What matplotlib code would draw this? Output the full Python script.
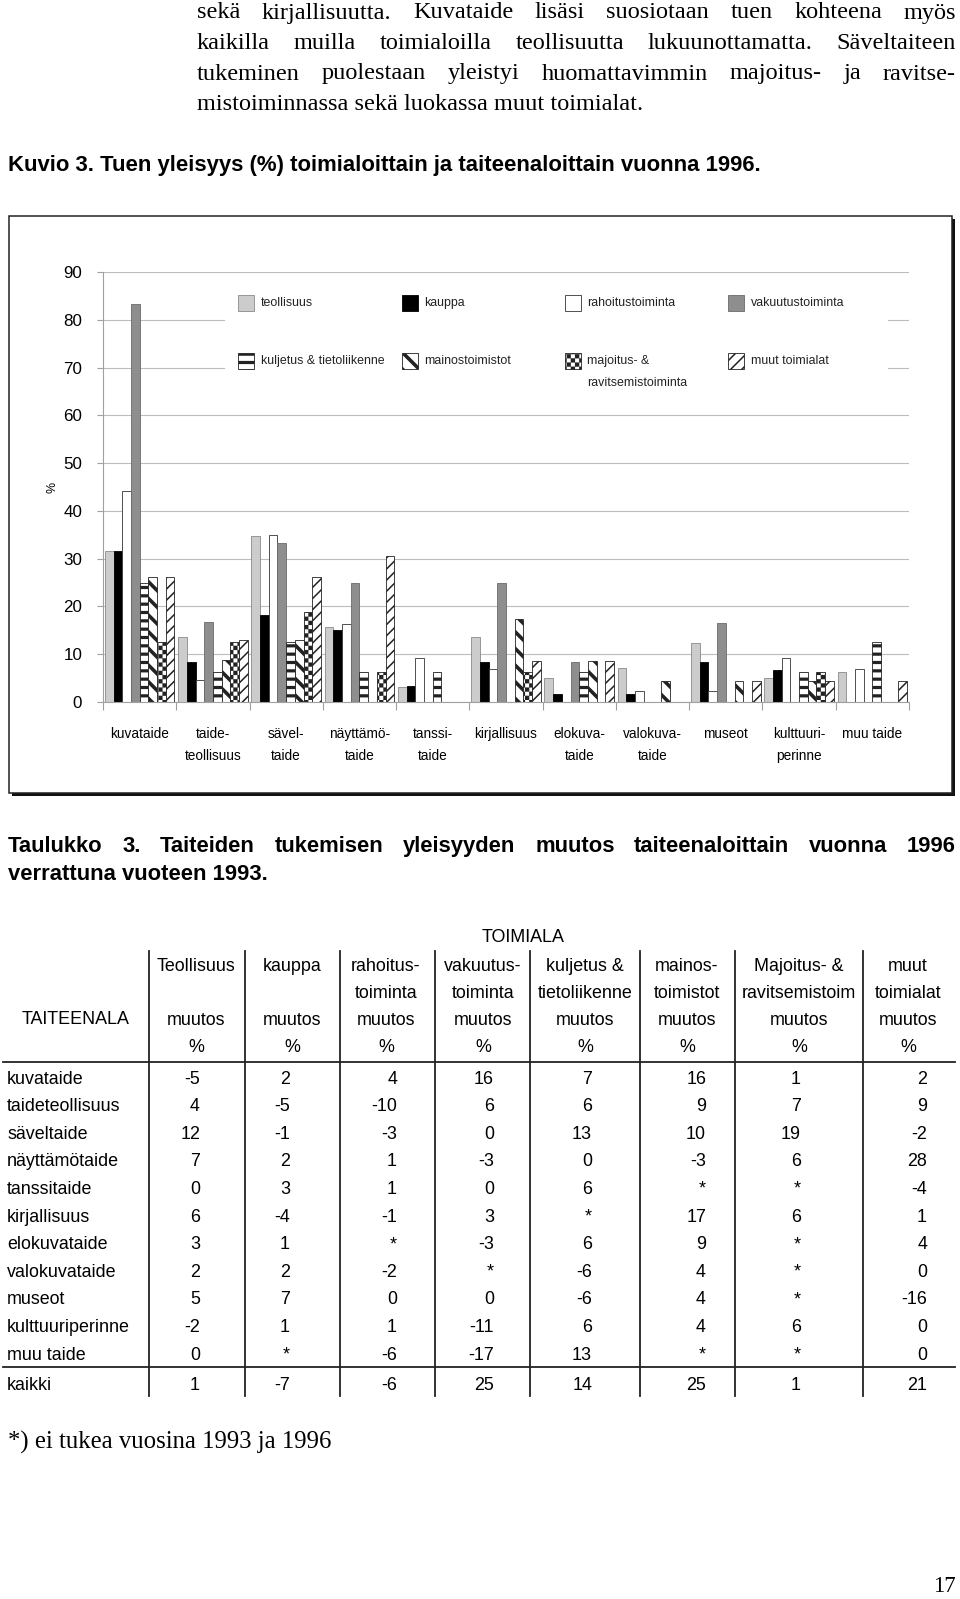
import warnings
import numpy as np
import matplotlib
matplotlib.use('Agg')
import matplotlib.pyplot as plt
import matplotlib.hatch as mhatch
from matplotlib.patches import Rectangle
from matplotlib.lines import Line2D
from matplotlib.path import Path
from matplotlib import font_manager as fm

warnings.filterwarnings('ignore')

# ---- chart data: tuen yleisyys (%) 1996 ----
arts = ['kuvataide', 'taide-\nteollisuus', 'sävel-\ntaide', 'näyttämö-\ntaide', 'tanssi-\ntaide',
        'kirjallisuus', 'elokuva-\ntaide', 'valokuva-\ntaide', 'museot', 'kulttuuri-\nperinne',
        'muu taide']
industries = ['teollisuus', 'kauppa', 'rahoitustoiminta', 'vakuutustoiminta',
              'kuljetus & tietoliikenne', 'mainostoimistot', 'majoitus- &\nravitsemistoiminta',
              'muut toimialat']
teollisuus = [31.6, 13.7, 34.8, 15.8, 3.1, 13.6, 5.1, 7.2, 12.4, 5.1, 6.2]
kauppa = [31.6, 8.3, 18.3, 15.0, 3.3, 8.3, 1.6, 1.6, 8.3, 6.6, 0]
rahoitus = [44.2, 4.6, 35.0, 16.3, 9.3, 7.0, 0, 2.2, 2.2, 9.2, 7.0]
vakuutus = [83.4, 16.7, 33.3, 25.0, 0, 25.0, 8.3, 0, 16.6, 0, 0]
kuljetus = [25.0, 6.3, 12.5, 6.3, 6.3, 0, 6.2, 0, 0, 6.2, 12.5]
mainos = [26.1, 8.7, 13.0, 0, 0, 17.4, 8.6, 4.3, 4.3, 4.3, 0]
majoitus = [12.5, 12.5, 18.8, 6.3, 0, 6.2, 0, 0, 0, 6.2, 0]
muut = [26.1, 13.0, 26.1, 30.5, 0, 8.6, 8.6, 0, 4.3, 4.3, 4.3]
series = [teollisuus, kauppa, rahoitus, vakuutus, kuljetus, mainos, majoitus, muut]

# ---- table data: muutos % 1993 -> 1996 ----
rows = ['kuvataide', 'taideteollisuus', 'säveltaide', 'näyttämötaide', 'tanssitaide',
        'kirjallisuus', 'elokuvataide', 'valokuvataide', 'museot', 'kulttuuriperinne',
        'muu taide', 'kaikki']
hdr1 = ['Teollisuus', 'kauppa', 'rahoitus-', 'vakuutus-', 'kuljetus &', 'mainos-', 'Majoitus- &', 'muut']
hdr2 = ['', '', 'toiminta', 'toiminta', 'tietoliikenne', 'toimistot', 'ravitsemistoim', 'toimialat']
chg_teollisuus = ['-5', '4', '12', '7', '0', '6', '3', '2', '5', '-2', '0', '1']
chg_kauppa = ['2', '-5', '-1', '2', '3', '-4', '1', '2', '7', '1', '*', '-7']
chg_rahoitus = ['4', '-10', '-3', '1', '1', '-1', '*', '-2', '0', '1', '-6', '-6']
chg_vakuutus = ['16', '6', '0', '-3', '0', '3', '-3', '*', '0', '-11', '-17', '25']
chg_kuljetus = ['7', '6', '13', '0', '6', '*', '6', '-6', '-6', '6', '13', '14']
chg_mainos = ['16', '9', '10', '-3', '*', '17', '9', '4', '4', '4', '*', '25']
chg_majoitus = ['1', '7', '19', '6', '*', '6', '*', '*', '*', '6', '*', '1']
chg_muut = ['2', '9', '-2', '28', '-4', '1', '4', '0', '-16', '0', '0', '21']
table_cols = [chg_teollisuus, chg_kauppa, chg_rahoitus, chg_vakuutus,
              chg_kuljetus, chg_mainos, chg_majoitus, chg_muut]


# checkerboard hatch ('c'), not in matplotlib by default
class CheckerHatch(mhatch.HatchPatternBase):
    def __init__(self, hatch, density):
        self.n = (hatch.count('c') * density) // 2 * 2
        self.num_vertices = (self.n * self.n // 2) * 5

    def set_vertices_and_codes(self, vertices, codes):
        s = 1.0 / self.n
        sq = np.array([[0, 0], [s, 0], [s, s], [0, s], [0, 0]])
        parts = [sq + [i * s, j * s] for i in range(self.n) for j in range(self.n) if (i + j) % 2 == 0]
        vertices[:] = np.concatenate(parts)
        codes[:] = np.tile([Path.MOVETO, Path.LINETO, Path.LINETO, Path.LINETO, Path.CLOSEPOLY], len(parts))


mhatch._hatch_types.append(CheckerHatch)

try:
    fm.findfont('Liberation Sans Narrow', fallback_to_default=False)
    SANS = ['Liberation Sans Narrow', 'DejaVu Sans']
except ValueError:
    SANS = ['Liberation Sans', 'DejaVu Sans']
SERIF = ['Liberation Serif', 'DejaVu Serif']
plt.rcParams['font.family'] = SANS
plt.rcParams['hatch.color'] = 'black'

W, H = 960, 1599
fig = plt.figure(figsize=(W / 100, H / 100), dpi=100)
R = fig.canvas.get_renderer()


def fx(x):
    return x / W


def fy(y):
    return 1 - y / H


def fit_size(s, target, family, weight='normal'):
    t = fig.text(0, 0, s, fontsize=12, family=family, weight=weight)
    w = t.get_window_extent(R).width
    t.remove()
    return 12 * target / w


def put(s, x, y, size, family=SANS, **kw):
    return fig.text(fx(x), fy(y), s, fontsize=size, family=family, va='center', **kw)


def justify(s, x0, x1, y, size, family, weight='normal'):
    ts = [put(w, 0, y, size, family, weight=weight) for w in s.split(' ')]
    ws = [t.get_window_extent(R).width for t in ts]
    gap = (x1 - x0 - sum(ws)) / (len(ts) - 1)
    x = x0
    for t, w in zip(ts, ws):
        t.set_x(fx(x))
        x += w + gap


# ---- body text ----
para = ['sekä kirjallisuutta. Kuvataide lisäsi suosiotaan tuen kohteena myös',
        'kaikilla muilla toimialoilla teollisuutta lukuunottamatta. Säveltaiteen',
        'tukeminen puolestaan yleistyi huomattavimmin majoitus- ja ravitse-',
        'mistoiminnassa sekä luokassa muut toimialat.']
ps = fit_size(para[3], 445, SERIF)
for i, line in enumerate(para):
    y = 13 + 30.5 * i
    if i < 3:
        justify(line, 197, 956, y, ps, SERIF)
    else:
        put(line, 197, y, ps, SERIF)

kuvio = 'Kuvio 3. Tuen yleisyys (%) toimialoittain ja taiteenaloittain vuonna 1996.'
put(kuvio, 8, 166, fit_size(kuvio, 752, SANS, 'bold'), weight='bold')

# ---- chart frame with shadow ----
fig.add_artist(Rectangle((fx(12), fy(796)), 943 / W, 577 / H, transform=fig.transFigure,
                         fc='#111111', ec='none', zorder=-3))
fig.add_artist(Rectangle((fx(9), fy(793)), 943 / W, 577 / H, transform=fig.transFigure,
                         fc='white', ec='#222222', lw=1.1, zorder=-2))

ax = fig.add_axes([fx(103), fy(702), (909 - 103) / W, (702 - 272) / H])
ax.patch.set_visible(False)
ax.set_xlim(0, 11)
ax.set_ylim(0, 90)
for sp in ['top', 'right']:
    ax.spines[sp].set_visible(False)
for sp in ['left', 'bottom']:
    ax.spines[sp].set_color('#a0a0a0')
    ax.spines[sp].set_linewidth(0.8)
ax.grid(axis='y', color='#bcbcbc', lw=0.8)
ax.set_axisbelow(True)

styles = [dict(fc='#cccccc', ec='#8a8a8a', hatch=None, hlw=1.0),
          dict(fc='black', ec='black', hatch=None, hlw=1.0),
          dict(fc='white', ec='#333333', hatch=None, hlw=1.0),
          dict(fc='#8e8e8e', ec='#6a6a6a', hatch=None, hlw=1.0),
          dict(fc='white', ec='#222222', hatch='--', hlw=2.3),
          dict(fc='white', ec='#222222', hatch='\\\\', hlw=2.6),
          dict(fc='white', ec='#222222', hatch='cccc', hlw=0.1),
          dict(fc='white', ec='#222222', hatch='///', hlw=1.1)]

bw = 0.95 / 8
groups = np.arange(len(arts)) + 0.5
for k, (vals, st) in enumerate(zip(series, styles)):
    with plt.rc_context({'hatch.linewidth': st['hlw']}):
        bars = ax.bar(groups + (k - 3.5) * bw, vals, bw, color=st['fc'], edgecolor=st['ec'],
                      lw=0.6, hatch=st['hatch'], zorder=2)
    for b in bars:
        if hasattr(b, 'set_hatch_linewidth'):
            b.set_hatch_linewidth(st['hlw'])

ax.set_yticks(range(0, 91, 10))
ax.tick_params(axis='y', length=4, color='#a0a0a0', pad=11, labelsize=fit_size('90', 19, SANS))
ax.set_xticks(groups, arts)
ax.set_xticks(range(len(arts) + 1), minor=True)
ax.tick_params(axis='x', which='major', length=0, pad=18, labelsize=fit_size('kuvataide', 59, SANS))
ax.tick_params(axis='x', which='minor', length=6, color='#a0a0a0', width=0.8)
for lab in ax.get_xticklabels():
    lab.set_linespacing(1.7)

leg_size = fit_size('teollisuus', 52, SANS)
put('%', 53, 487, leg_size, rotation=90, ha='center')

# legend block (white box hides the grid behind it)
fig.add_artist(Rectangle((fx(225), fy(405)), (888 - 225) / W, 125 / H, transform=fig.transFigure,
                         fc='white', ec='none', zorder=1))
patch_x = [238, 402, 565, 728]
text_x = [261, 424, 587, 751]
row_y = [303, 361]
for k, (name, st) in enumerate(zip(industries, styles)):
    c, r = k % 4, k // 4
    with plt.rc_context({'hatch.linewidth': st['hlw']}):
        p = Rectangle((fx(patch_x[c]), fy(row_y[r] + 8)), 16 / W, 16 / H, transform=fig.transFigure,
                      fc=st['fc'], ec=st['ec'], lw=0.6, hatch=st['hatch'], zorder=2)
    if hasattr(p, 'set_hatch_linewidth'):
        p.set_hatch_linewidth(st['hlw'])
    fig.add_artist(p)
    for j, part in enumerate(name.split('\n')):
        t = put(part, text_x[c], row_y[r] + 22 * j, leg_size, color='#222222')
        t.set_zorder(3)

# ---- table ----
tt1 = 'Taulukko 3. Taiteiden tukemisen yleisyyden muutos taiteenaloittain vuonna 1996'
tt2 = 'verrattuna vuoteen 1993.'
ts = fit_size(tt2, 259, SANS, 'bold')
justify(tt1, 8, 956, 846, ts, SANS, 'bold')
put(tt2, 8, 874, ts, weight='bold')

tsz = fit_size('taideteollisuus', 114, SANS)
col_c = [196, 292, 386, 483, 585, 687, 799, 908]
col_r = [200, 290, 397, 494, 592, 706, 801, 927]
put('TOIMIALA', 523, 938, tsz, ha='center')
put('TAITEENALA', 76, 1020, tsz, ha='center')
for c in range(8):
    for j, s in enumerate([hdr1[c], hdr2[c], 'muutos', '%']):
        if s:
            put(s, col_c[c], 966 + 27.3 * j, tsz, ha='center')

row_ys = [1079 + 27.6 * i for i in range(11)] + [1385]
for i, name in enumerate(rows):
    put(name, 7, row_ys[i], tsz)
    for c in range(8):
        put(table_cols[c][i], col_r[c], row_ys[i], tsz, ha='right')

lkw = dict(color='#222222', lw=1.3, transform=fig.transFigure)
for xv in [149, 245, 340, 435, 530, 640, 735, 863]:
    fig.add_artist(Line2D([fx(xv), fx(xv)], [fy(951), fy(1396)], **lkw))
for yv in [1062, 1367]:
    fig.add_artist(Line2D([fx(3), fx(955)], [fy(yv), fy(yv)], **lkw))

foot = '*) ei tukea vuosina 1993 ja 1996'
put(foot, 8, 1442, fit_size(foot, 322, SERIF), SERIF)
put('17', 956, 1586, fit_size('17', 23, SERIF), SERIF, ha='right')

fig.savefig('out.png', dpi=100)
